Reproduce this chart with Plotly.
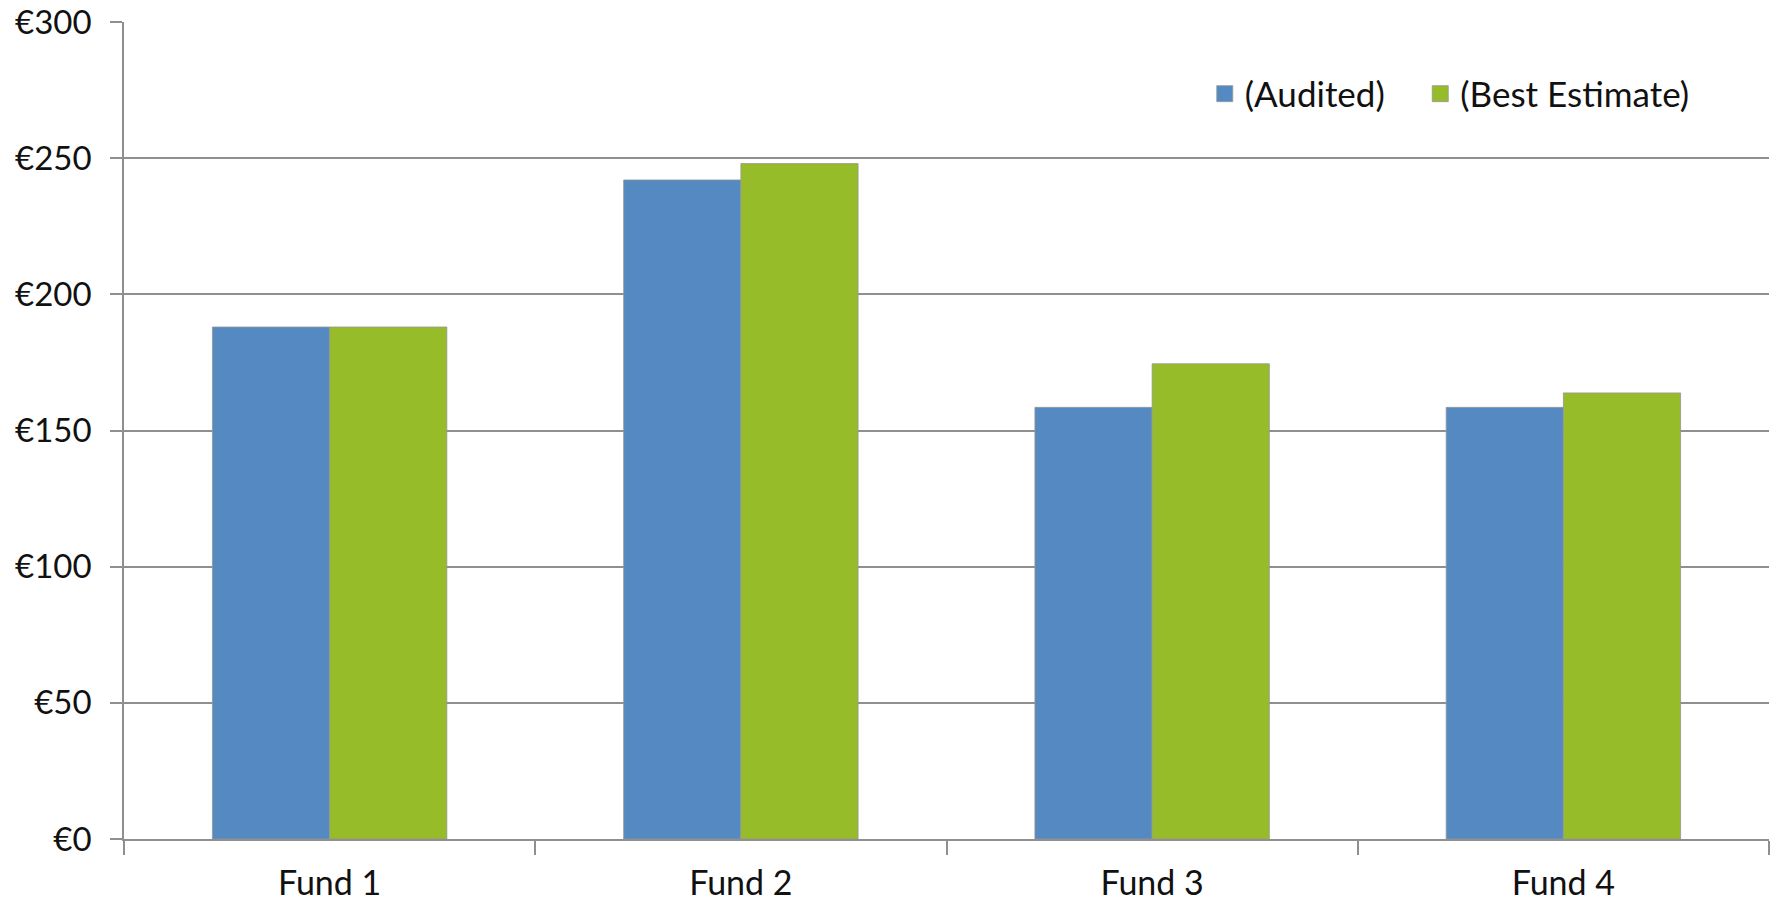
import plotly.graph_objects as go

categories = ["Fund 1", "Fund 2", "Fund 3", "Fund 4"]
audited = [188, 242, 158.5, 158.5]
best_estimate = [188, 248, 174.5, 163.8]
series_names = ["(Audited)", "(Best Estimate)"]
y_tick_values = [0, 50, 100, 150, 200, 250, 300]
y_tick_labels = ["€0", "€50", "€100", "€150", "€200", "€250", "€300"]

BLUE = "#5489C1"
GREEN = "#97BC2A"
GRID = "#8F8F8F"
FONT = "Lato"

fig = go.Figure()
for name, vals, col in [(series_names[0], audited, BLUE), (series_names[1], best_estimate, GREEN)]:
    fig.add_trace(go.Bar(
        x=categories, y=vals, name=name, showlegend=False,
        marker=dict(color=col, line=dict(color="rgba(150,150,150,0.8)", width=1)),
    ))
for name, col, lg in [(series_names[0], BLUE, "legend"), (series_names[1], GREEN, "legend2")]:
    fig.add_trace(go.Scatter(
        x=[None], y=[None], mode="markers", name=name, legend=lg,
        marker=dict(symbol="square", size=16, color=col,
                    line=dict(color="rgba(150,150,150,0.8)", width=1)),
    ))

legend_common = dict(orientation="h", xanchor="left", y=0.912, yanchor="middle",
                     font=dict(family=FONT, size=35, color="#111111"),
                     bgcolor="rgba(0,0,0,0)", itemwidth=30)

fig.update_layout(
    width=1777, height=903,
    margin=dict(l=124, r=8, t=22, b=64, autoexpand=False),
    paper_bgcolor="white", plot_bgcolor="white",
    barmode="group", bargap=0.43, bargroupgap=0,
    font=dict(family=FONT, size=34, color="#111111"),
    legend=dict(x=0.657, **legend_common),
    legend2=dict(x=0.788, **legend_common),
)
fig.update_xaxes(
    type="category", showline=True, linecolor=GRID, linewidth=1.5,
    ticks="outside", tickson="boundaries", ticklen=14, tickcolor=GRID, tickwidth=1.5,
    showgrid=False, ticklabelstandoff=13, automargin=False,
)
fig.update_yaxes(
    range=[0, 300], tickvals=y_tick_values, ticktext=y_tick_labels,
    tickfont=dict(size=33),
    showline=True, linecolor=GRID, linewidth=1.5,
    ticks="outside", ticklen=12, tickcolor=GRID, tickwidth=1.5,
    showgrid=True, gridcolor=GRID, gridwidth=1.5, zeroline=False,
    ticklabelstandoff=12, automargin=False, ticklabeloverflow="allow",
)

fig.write_html(
    "out.html",
    config={"displayModeBar": False},
    post_script="document.body.style.margin='0';document.body.style.overflow='hidden';",
)
